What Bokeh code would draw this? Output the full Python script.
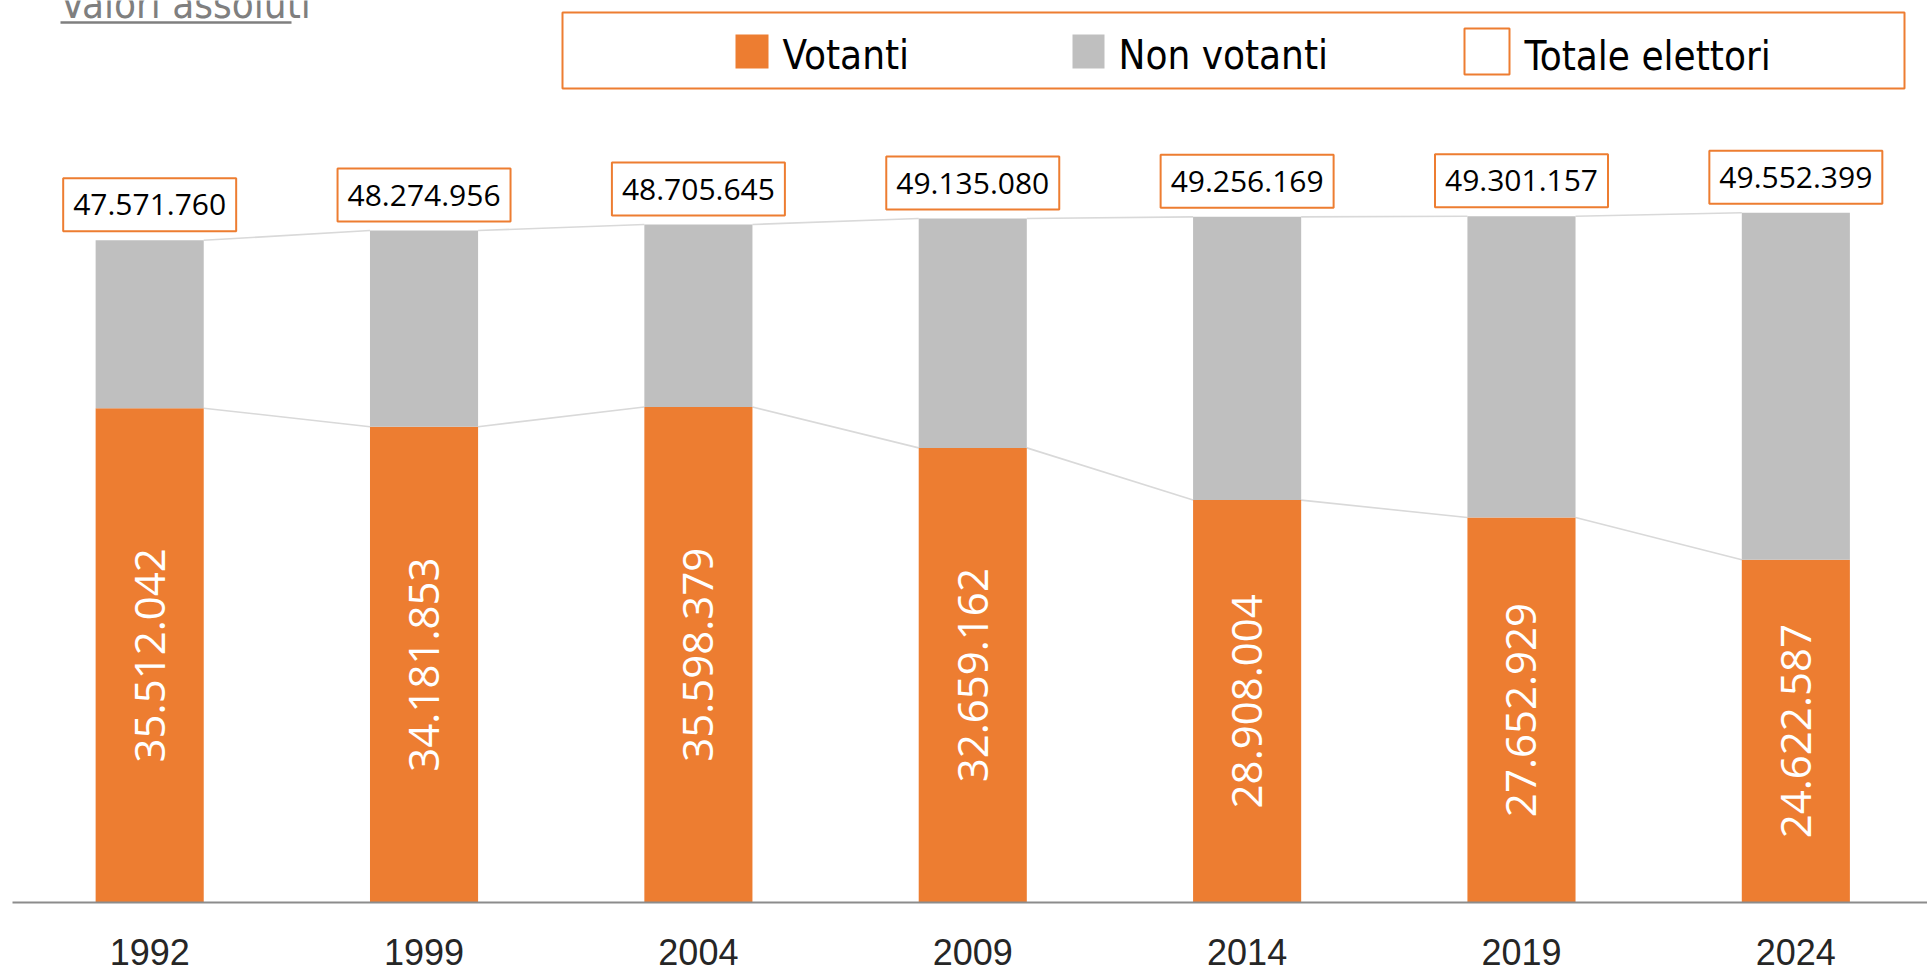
from bokeh.plotting import figure
from bokeh.models import Range1d, FixedTicker, ColumnDataSource
from bokeh.core.properties import value
from bokeh.embed import file_html
from bokeh.resources import INLINE
import numpy as np

# ---- data ----
years = ["1992", "1999", "2004", "2009", "2014", "2019", "2024"]
elettori = [47571760, 48274956, 48705645, 49135080, 49256169, 49301157, 49552399]
votanti = [35512042, 34181853, 35598379, 32659162, 28908004, 27652929, 24622587]
legend_labels = ["Votanti", "Non votanti", "Totale elettori"]
title_text = "Valori assoluti"

ORANGE = "#ED7D31"
GRAY = "#BFBFBF"
LINE_GRAY = "#D9D9D9"

n = len(years)
xs = list(range(n))
non_votanti = [e - v for e, v in zip(elettori, votanti)]


def fmt(v):
    return f"{v:,}".replace(",", ".")


# ---- geometry (page pixels) ----
W, H = 1927, 973
FL, FR = 12, 1927
FT, FB = 0, 902
X0 = -0.5
X1 = X0 + (FR - FL) / 274.36
PX_PER_VOTER = 13.92e-6
Y1 = (FB - FT) / PX_PER_VOTER
BW = 0.394
TXT_SHIFT = 14  # rendered baseline offset compensation


def px2x(px):
    return X0 + (px - FL) * (X1 - X0) / (FR - FL)


def px2y(py):
    return (FB - py) / PX_PER_VOTER


p = figure(width=W, height=H, x_range=Range1d(X0, X1), y_range=Range1d(0, Y1),
           output_backend="svg", toolbar_location=None, y_axis_location=None,
           title=None, min_border_left=FL, min_border_right=0, min_border_top=0,
           min_border_bottom=H - FB)
p.outline_line_color = None
p.grid.visible = False
p.background_fill_color = "white"
p.border_fill_color = "white"

src = ColumnDataSource(dict(
    x=xs, year=years, votanti=votanti, non=non_votanti, tot=elettori,
    vlab=[fmt(v) for v in votanti], tlab=[fmt(v) for v in elettori],
    vmid=[v / 2 for v in votanti],
))

# connector lines
p.segment(x0=[i + BW / 2 for i in xs[:-1]], x1=[i + 1 - BW / 2 for i in xs[:-1]],
          y0=elettori[:-1], y1=elettori[1:], line_color=LINE_GRAY, line_width=1.6)
p.segment(x0=[i + BW / 2 for i in xs[:-1]], x1=[i + 1 - BW / 2 for i in xs[:-1]],
          y0=votanti[:-1], y1=votanti[1:], line_color=LINE_GRAY, line_width=1.6)

# bars
p.vbar(x="x", width=BW, bottom=0, top="votanti", source=src,
       fill_color=ORANGE, line_color=None)
p.vbar(x="x", width=BW, bottom="votanti", top="tot", source=src,
       fill_color=GRAY, line_color=None)

# total labels with boxes
p.text(x="x", y="tot", text="tlab", source=src, text_align="center",
       text_baseline="bottom", y_offset=-9, text_color="black",
       text_font=value("Open Sans"), text_font_size="30px",
       background_fill_color="white", border_line_color=ORANGE,
       border_line_width=2, padding=dict(left=10, right=10, top=16, bottom=16))

# votanti labels (rotated)
p.text(x="x", y="vmid", text="vlab", source=src, angle=np.pi / 2,
       text_align="center", text_baseline="middle", text_color="white",
       text_font=value("Open Sans"), text_font_size="42px")

# x axis
p.xaxis.ticker = FixedTicker(ticks=xs)
p.xaxis.major_label_overrides = {i: y for i, y in zip(xs, years)}
p.xaxis.major_tick_line_color = None
p.xaxis.minor_tick_line_color = None
p.xaxis.axis_line_color = "#8C8C8C"
p.xaxis.axis_line_width = 2
p.xaxis.major_label_text_font = "Liberation Sans"
p.xaxis.major_label_text_font_size = "36px"
p.xaxis.major_label_text_color = "#262626"
p.xaxis.major_label_standoff = 30

# title (cut at top as in reference)
NARROW = value("DejaVu Sans Condensed, Liberation Sans")
p.text(x=[px2x(60)], y=[px2y(17 - TXT_SHIFT)], text=[title_text], text_align="left",
       text_baseline="alphabetic", text_color="#7F7F7F", text_font=NARROW,
       text_font_size="40px")
p.segment(x0=[px2x(60)], x1=[px2x(291)], y0=[px2y(22)], y1=[px2y(22)],
          line_color="#7F7F7F", line_width=2.5)

# legend (drawn manually)
p.quad(left=[px2x(562)], right=[px2x(1904)], top=[px2y(12)], bottom=[px2y(88)],
       fill_color="white", line_color=ORANGE, line_width=2)
p.quad(left=[px2x(735)], right=[px2x(768)], top=[px2y(34)], bottom=[px2y(68)],
       fill_color=ORANGE, line_color=None)
p.quad(left=[px2x(1072)], right=[px2x(1104)], top=[px2y(34)], bottom=[px2y(68)],
       fill_color=GRAY, line_color=None)
p.quad(left=[px2x(1464)], right=[px2x(1509)], top=[px2y(28)], bottom=[px2y(74)],
       fill_color="white", line_color=ORANGE, line_width=2)
p.text(x=[px2x(782), px2x(1118), px2x(1524)],
       y=[px2y(68 - TXT_SHIFT), px2y(68 - TXT_SHIFT), px2y(69 - TXT_SHIFT)],
       text=legend_labels, text_align="left", text_baseline="alphabetic",
       text_color="black", text_font=NARROW, text_font_size="40px")

open("out.html", "w").write(file_html(p, INLINE))
